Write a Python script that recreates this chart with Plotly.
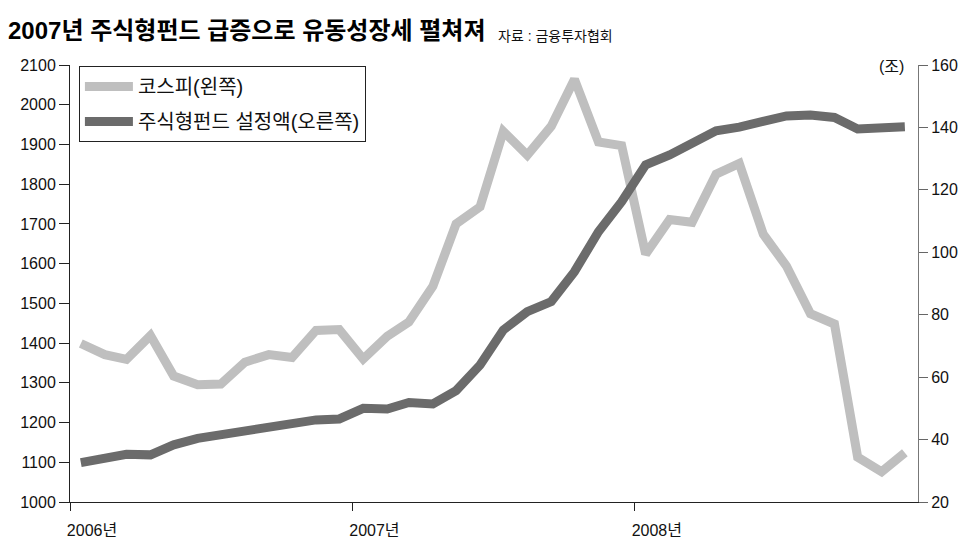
import plotly.graph_objects as go

# Monthly observations, Jan 2006 - Dec 2008
months = [f"{y}-{m:02d}-15" for y in (2006, 2007, 2008) for m in range(1, 13)]

kospi = [1399, 1371, 1359, 1419, 1317, 1295, 1297, 1352, 1371, 1364, 1432, 1434,
         1360, 1417, 1453, 1543, 1700, 1743, 1933, 1873, 1946, 2064, 1906, 1897,
         1624, 1711, 1704, 1825, 1852, 1674, 1594, 1474, 1448, 1113, 1076, 1124]

fund = [32.6, 34.0, 35.3, 35.1, 38.3, 40.4, 41.5, 42.7, 43.8, 44.6, 46.3, 46.6,
        50.0, 49.8, 51.9, 51.4, 55.7, 63.9, 75.1, 81.0, 84.2, 93.8, 106.6, 116.2,
        128.0, 131.2, 135.0, 138.9, 140.1, 142.2, 143.7, 144.0, 143.2, 139.5, 139.6, 140.2]

year_ticks = ["2006-01-01", "2007-01-01", "2008-01-01"]
year_labels = ["2006년", "2007년", "2008년"]

title_text = "2007년 주식형펀드 급증으로 유동성장세 펼쳐져"
source_text = "자료 : 금융투자협회"
unit_text = "(조)"
kospi_name = "코스피(왼쪽)"
fund_name = "주식형펀드 설정액(오른쪽)"

FONT = "Liberation Sans, Arial, Noto Sans CJK KR, sans-serif"

# page body has an 8px default margin; figure is sized/offset to compensate
OFF = 8
W, H = 970 - OFF, 560 - OFF
PL, PR, PT, PB = 63, 919, 65, 502  # plot area in page pixels
PW, PH = PR - PL, PB - PT

fig = go.Figure()
fig.add_trace(go.Scatter(
    x=months, y=kospi, name=kospi_name, mode="lines",
    line=dict(color="#bfbfbf", width=9), yaxis="y",
    legendgroup="a",
))
fig.add_trace(go.Scatter(
    x=months, y=fund, name=fund_name, mode="lines",
    line=dict(color="#6b6b6b", width=9), yaxis="y2",
    legendgroup="b",
))

fig.update_layout(
    width=W, height=H,
    margin=dict(l=PL - OFF, r=970 - PR, t=PT - OFF, b=560 - PB),
    paper_bgcolor="white", plot_bgcolor="white",
    font=dict(family=FONT, size=16, color="#111"),
    title=dict(
        text=title_text, x=0, xanchor="left", xref="container",
        y=1 - (31 - OFF)/H, yanchor="middle", yref="container",
        font=dict(family=FONT, size=24, color="#000", weight="bold"),
    ),
    showlegend=True,
    legend=dict(
        x=(72 - PL)/PW, y=1 - (66 - PT)/PH, xanchor="left", yanchor="top",
        bordercolor="#222", borderwidth=1, bgcolor="white",
        font=dict(family=FONT, size=20, color="#111"),
        tracegroupgap=6, traceorder="grouped",
        itemwidth=48,
    ),
    xaxis=dict(
        type="date", range=["2006-01-01", "2009-01-01"],
        tickvals=year_ticks, ticktext=year_labels,
        ticks="outside", ticklen=8, tickcolor="#222", tickwidth=1,
        showline=True, linecolor="#222", linewidth=1,
        showgrid=False, zeroline=False,
        ticklabelshift=22, ticklabelstandoff=6,
        tickfont=dict(family=FONT, size=16, color="#111"),
    ),
    yaxis=dict(
        range=[1000, 2100], dtick=100, tick0=1000,
        ticks="outside", ticklen=10, tickcolor="#222", tickwidth=1,
        showline=True, linecolor="#222", linewidth=1,
        showgrid=False, zeroline=False,
        tickfont=dict(family=FONT, size=16, color="#111"),
    ),
    yaxis2=dict(
        range=[20, 160], dtick=20, tick0=20,
        overlaying="y", side="right",
        ticks="outside", ticklen=9, tickcolor="#666", tickwidth=1,
        showline=True, linecolor="#777", linewidth=1,
        showgrid=False, zeroline=False,
        tickfont=dict(family=FONT, size=16, color="#111"),
    ),
    annotations=[
        dict(text=source_text, xref="paper", yref="paper",
             x=(493 - PL)/PW, y=(PB - 36)/PH, xanchor="left", yanchor="middle",
             showarrow=False, font=dict(family=FONT, size=14, color="#111")),
        dict(text=unit_text, xref="paper", yref="paper",
             x=(907 - PL)/PW, y=(PB - 66)/PH, xanchor="right", yanchor="middle",
             showarrow=False, font=dict(family=FONT, size=16, color="#111")),
    ],
)

fig.write_html("out.html")
